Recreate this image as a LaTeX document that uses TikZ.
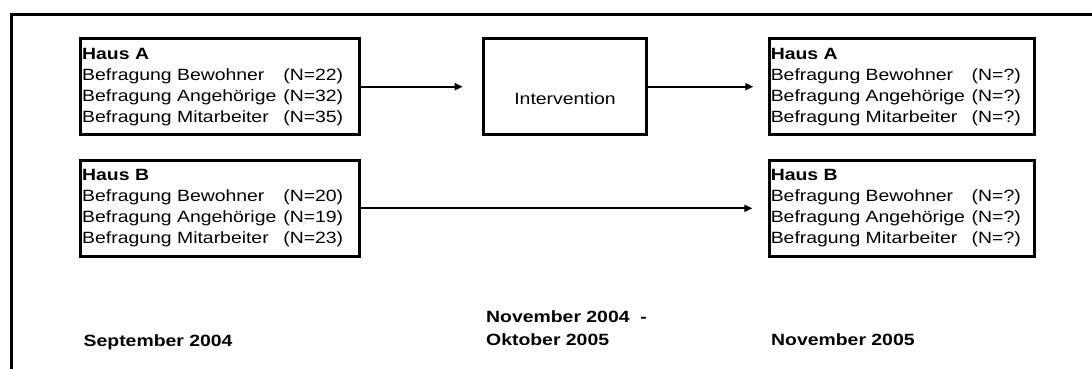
\documentclass[tikz,border=0pt]{standalone}
\usepackage{fontspec}
\setmainfont{Liberation Sans}[FakeStretch=1.19]
\usetikzlibrary{arrows.meta,positioning}

\begin{document}
\begin{tikzpicture}[x=1pt, y=-1pt]
    % Parameters
    \def\rahmen{3pt}    % width of the outer frame
    \def\zeileA{261pt}  % line width, first survey
    \def\zeileB{250pt}  % line width, second survey

    % One survey line: width, group, count
    \newcommand{\befragung}[3]{\makebox[#1][l]{Befragung #2\hfill(N=#3)}}

    \tikzset{
        kasten/.style={draw, line width=3.2pt, outer sep=0pt,
            font=\fontsize{16.3}{21}\selectfont},
        hausbox/.style={kasten, inner xsep=1.5pt, inner ysep=0pt,
            minimum height=96pt, align=left, anchor=north west},
        pfeil/.style={-{Triangle[length=8pt, width=7pt]}, line width=1.8pt},
        datum/.style={font=\fontsize{16.3}{23}\selectfont\bfseries,
            anchor=base west, inner sep=0pt, align=left}
    }

    % Page size and outer frame
    \useasboundingbox (0,0) rectangle (1092,369);
    \draw[line width=\rahmen] (11.3,369) |- (1092,15);

    % Houses before the intervention
    \node[hausbox, text width=276pt] (hausA1) at (80.7,38.7)
        {\textbf{Haus A}\\
         \befragung{\zeileA}{Bewohner}{22}\\
         \befragung{\zeileA}{Angehörige}{32}\\
         \befragung{\zeileA}{Mitarbeiter}{35}};
    \node[hausbox, text width=276pt] (hausB1) at (80.7,160.3)
        {\textbf{Haus B}\\
         \befragung{\zeileA}{Bewohner}{20}\\
         \befragung{\zeileA}{Angehörige}{19}\\
         \befragung{\zeileA}{Mitarbeiter}{23}};

    % Intervention (only Haus A)
    \node[kasten, minimum width=162.6pt, minimum height=96pt,
          text height=35.4pt, text depth=0pt] (interv) at (565,86.7) {Intervention};

    % Houses after the intervention
    \node[hausbox, text width=262pt] (hausA2) at (769.3,38.7)
        {\textbf{Haus A}\\
         \befragung{\zeileB}{Bewohner}{?}\\
         \befragung{\zeileB}{Angehörige}{?}\\
         \befragung{\zeileB}{Mitarbeiter}{?}};
    \node[hausbox, text width=262pt] (hausB2) at (769.3,160.3)
        {\textbf{Haus B}\\
         \befragung{\zeileB}{Bewohner}{?}\\
         \befragung{\zeileB}{Angehörige}{?}\\
         \befragung{\zeileB}{Mitarbeiter}{?}};

    % Arrows
    \draw[pfeil] (hausA1.east) -- ([xshift=-21pt]interv.west);
    \draw[pfeil] (interv.east) -- ([xshift=-16pt]hausA2.west);
    \draw[pfeil] (hausB1.east) -- ([xshift=-17pt]hausB2.west);

    % Time points
    \node[datum] (zeit1) at (83.5,346) {September 2004};
    \node[datum] (zeit2) at (486,345.5) {November 2004\ \ -\\Oktober 2005};
    \node[datum] (zeit3) at (771,345.5) {November 2005};

\end{tikzpicture}
\end{document}
